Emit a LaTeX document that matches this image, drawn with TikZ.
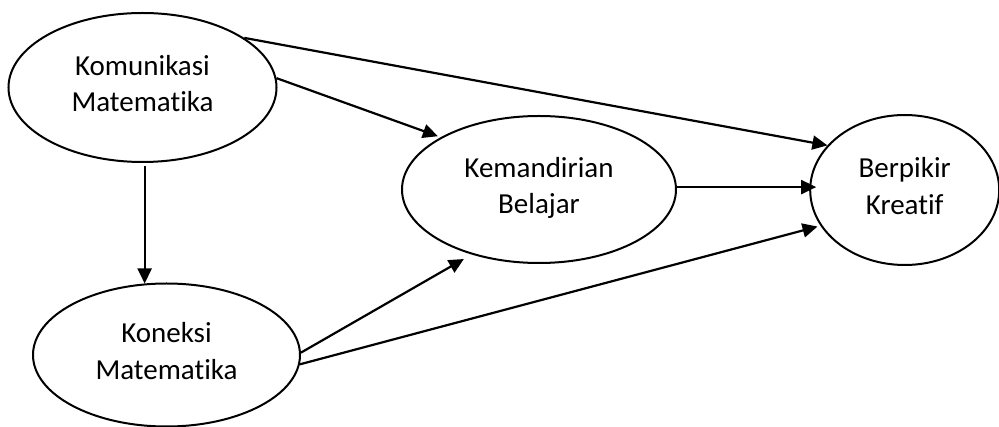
\documentclass[tikz,border=0pt]{standalone}
\usepackage{fontspec}
\setmainfont{Carlito}[Ligatures=CommonOff]
\usetikzlibrary{arrows.meta,shapes.geometric}
\begin{document}
\begin{tikzpicture}[x=1pt,y=-1pt,
  oval/.style={draw=black, line width=2pt, ellipse, inner sep=0pt, align=center,
    text depth=8pt, font=\fontsize{29}{36.7}\selectfont},
  link/.style={draw=black, line width=2.2pt, -{Triangle[length=15pt,width=14pt]}}]
\fill[white] (0,0) rectangle (999,427);
\useasboundingbox (0,0) rectangle (999,427);
\node[oval, minimum width=268pt, minimum height=149pt] (kom) at (142.5,87.5) {Komunikasi\\Matematika};
\node[oval, minimum width=267pt, minimum height=143pt] (kon) at (166.5,355) {Koneksi\\Matematika};
\node[oval, minimum width=274pt, minimum height=147pt] (kem) at (539,189.5) {Kemandirian\\Belajar};
\node[oval, minimum width=189pt, minimum height=150pt] (bk) at (904.7,190) {Berpikir\\Kreatif};
\draw[link] (kom.26) -- (bk.150);
\draw[link, shorten >=3pt] (kom.4) -- (kem.152);
\draw[link, shorten <=3pt] (kom.south -| kon.107) -- (kon.107);
\draw[link, shorten >=-7pt] (kem.1) -- (kem.1 -| bk.west);
\draw[link, shorten >=9pt] (kon.1) -- (kem.224);
\draw[link, shorten >=3pt] (kon.356) -- (bk.203);
\end{tikzpicture}
\end{document}
